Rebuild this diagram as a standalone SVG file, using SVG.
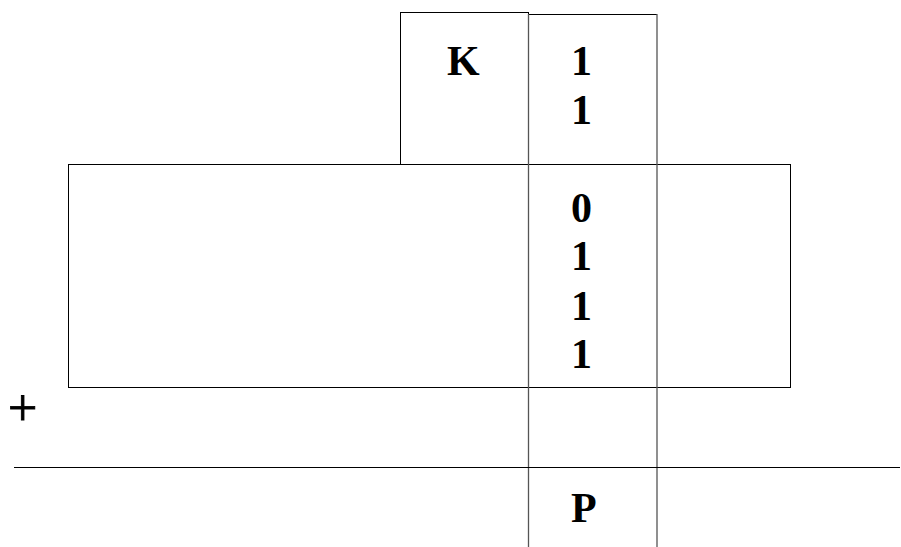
<svg xmlns="http://www.w3.org/2000/svg" width="901" height="547" viewBox="0 0 901 547">
<style>
.ln{stroke:#000;stroke-width:1;fill:none}
.vl{stroke:#555;stroke-width:1.3;fill:none}
.t{font-family:"Liberation Serif","Times New Roman",serif;font-weight:bold;font-size:42px;fill:#000}
.p{font-family:"Liberation Serif","Times New Roman",serif;font-size:52px;fill:#000;stroke:#000;stroke-width:0.9}
</style>
<rect width="901" height="547" fill="#fff"/>
<g id="bigbox"><rect class="ln" x="68.5" y="164.5" width="722" height="223"/></g>
<g id="kbox">
<rect class="ln" x="400.5" y="12.5" width="128" height="152"/>
<text class="t" x="447" y="75">K</text>
</g>
<g id="column">
<path class="ln" d="M528.5 14.5 H657"/>
<path class="vl" d="M528.5 14 V547 M657 14 V547"/>
<text class="t" x="571" y="75">1</text>
<text class="t" x="571" y="124">1</text>
<text class="t" x="571" y="222">0</text>
<text class="t" x="571" y="270">1</text>
<text class="t" x="571" y="320">1</text>
<text class="t" x="571" y="368">1</text>
<text class="t" x="571" y="522">P</text>
</g>
<g id="connectors">
<path class="ln" d="M14 467.5 H900"/>
</g>
<text class="p" x="8" y="425">+</text>
</svg>
